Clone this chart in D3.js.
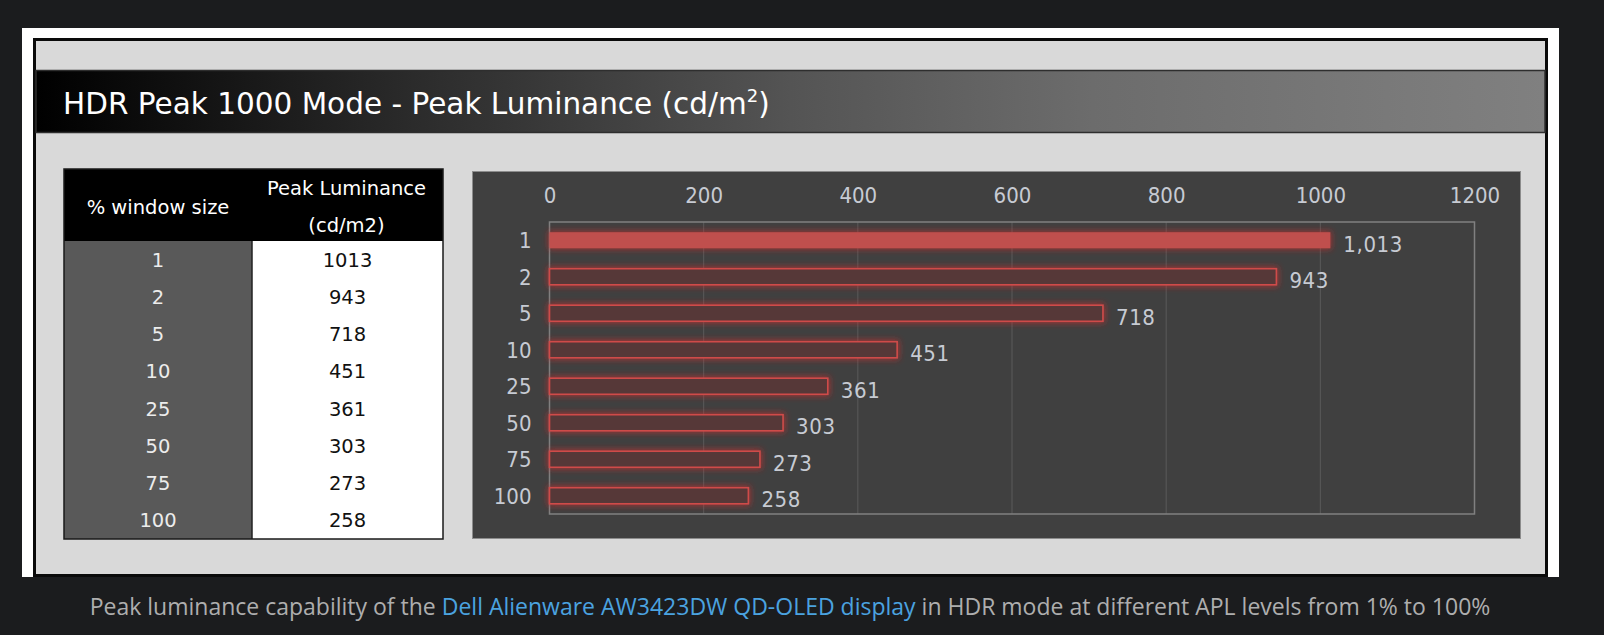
<!DOCTYPE html>
<html>
<head>
<meta charset="utf-8">
<script src="https://cdn.jsdelivr.net/npm/d3@7"></script>
<style>
  html, body { margin: 0; padding: 0; background: #1b1c1e; }
  svg { display: block; }
</style>
</head>
<body>
<svg id="chart" width="1604" height="635"></svg>
<script>
// ---- data ----
const windowSizes = ["1", "2", "5", "10", "25", "50", "75", "100"];
const peakLuminance = [1013, 943, 718, 451, 361, 303, 273, 258];
const xTicks = [0, 200, 400, 600, 800, 1000, 1200];
const titleMain = "HDR Peak 1000 Mode - Peak Luminance (cd/m";
const titleSup = "2";
const tableHeaderLeft = "% window size";
const tableHeaderRight = ["Peak Luminance", "(cd/m2)"];
const captionParts = [
  {text: "Peak luminance capability of the ", link: false},
  {text: "Dell Alienware AW3423DW QD-OLED display", link: true},
  {text: " in HDR mode at different APL levels from 1% to 100%", link: false}
];

const svg = d3.select("#chart");
const defs = svg.append("defs");

// title gradient
const grad = defs.append("linearGradient").attr("id", "titleGrad")
  .attr("x1", "0%").attr("x2", "100%").attr("y1", "0%").attr("y2", "0%");
[[0, "#000000"], [0.25, "#2b2b2b"], [0.5, "#545454"], [0.7, "#6c6c6c"], [1, "#808080"]]
  .forEach(([o, c]) => grad.append("stop").attr("offset", o).attr("stop-color", c));

// glow filter
const glow = defs.append("filter").attr("id", "glow")
  .attr("x", "-10%").attr("y", "-60%").attr("width", "120%").attr("height", "220%");
glow.append("feMorphology").attr("in", "SourceAlpha").attr("operator", "dilate").attr("radius", 1).attr("result", "d");
glow.append("feGaussianBlur").attr("in", "d").attr("stdDeviation", 3).attr("result", "b");
glow.append("feFlood").attr("flood-color", "#d42a2a").attr("flood-opacity", 0.65).attr("result", "f");
glow.append("feComposite").attr("in", "f").attr("in2", "b").attr("operator", "in").attr("result", "g");
const mg = glow.append("feMerge");
mg.append("feMergeNode").attr("in", "g");
mg.append("feMergeNode").attr("in", "SourceGraphic");

// background frame
svg.append("rect").attr("x", 0).attr("y", 0).attr("width", 1604).attr("height", 635).attr("fill", "#1b1c1e");
svg.append("rect").attr("x", 22).attr("y", 28).attr("width", 1537).attr("height", 549).attr("fill", "#ffffff");
svg.append("rect").attr("x", 34.5).attr("y", 39.5).attr("width", 1512).attr("height", 536)
  .attr("fill", "#d9d9d9").attr("stroke", "#0a0a0a").attr("stroke-width", 3);

// title bar
svg.append("rect").attr("x", 36).attr("y", 70.5).attr("width", 1509).attr("height", 62)
  .attr("fill", "url(#titleGrad)").attr("stroke", "#2e2e2e").attr("stroke-width", 1.5);
const title = svg.append("text").attr("x", 63).attr("y", 114)
  .attr("font-family", "'DejaVu Sans', Verdana, sans-serif").attr("font-size", 29.5)
  .attr("fill", "#ffffff");
title.append("tspan").text(titleMain);
title.append("tspan").attr("font-size", 18).attr("dy", -12).text(titleSup);
title.append("tspan").attr("dy", 12).text(")");

// ---- table ----
const tbl = {x0: 64, xm: 252, x1: 443, y0: 169, yh: 241, y1: 539};
const rowH = (tbl.y1 - tbl.yh) / windowSizes.length;
const tg = svg.append("g");
tg.append("rect").attr("x", tbl.x0).attr("y", tbl.y0).attr("width", tbl.x1 - tbl.x0).attr("height", tbl.yh - tbl.y0).attr("fill", "#000");
tg.append("rect").attr("x", tbl.x0).attr("y", tbl.yh).attr("width", tbl.xm - tbl.x0).attr("height", tbl.y1 - tbl.yh).attr("fill", "#595959");
tg.append("rect").attr("x", tbl.xm).attr("y", tbl.yh).attr("width", tbl.x1 - tbl.xm).attr("height", tbl.y1 - tbl.yh).attr("fill", "#ffffff");
tg.append("line").attr("x1", tbl.xm).attr("x2", tbl.xm).attr("y1", tbl.yh).attr("y2", tbl.y1).attr("stroke", "#222").attr("stroke-width", 1.5);
tg.append("rect").attr("x", tbl.x0).attr("y", tbl.y0).attr("width", tbl.x1 - tbl.x0).attr("height", tbl.y1 - tbl.y0)
  .attr("fill", "none").attr("stroke", "#1a1a1a").attr("stroke-width", 1.5);
const tfont = "'DejaVu Sans', Verdana, sans-serif";
tg.append("text").attr("x", (tbl.x0 + tbl.xm) / 2).attr("y", 214).attr("text-anchor", "middle")
  .attr("font-family", tfont).attr("font-size", 19.5).attr("fill", "#fff").text(tableHeaderLeft);
tableHeaderRight.forEach((t, i) => {
  tg.append("text").attr("x", (tbl.xm + tbl.x1) / 2 - 1).attr("y", 195 + i * 37).attr("text-anchor", "middle")
    .attr("font-family", tfont).attr("font-size", 19.5).attr("fill", "#fff").text(t);
});
windowSizes.forEach((w, i) => {
  const cy = tbl.yh + rowH * (i + 0.5);
  tg.append("text").attr("x", (tbl.x0 + tbl.xm) / 2).attr("y", cy + 7).attr("text-anchor", "middle")
    .attr("font-family", tfont).attr("font-size", 19.5).attr("fill", "#ececec").text(w);
  tg.append("text").attr("x", (tbl.xm + tbl.x1) / 2).attr("y", cy + 7).attr("text-anchor", "middle")
    .attr("font-family", tfont).attr("font-size", 19.5).attr("fill", "#111").text(peakLuminance[i]);
});

// ---- chart panel ----
const panel = {x: 472.5, y: 171.5, w: 1048, h: 367};
svg.append("rect").attr("x", panel.x).attr("y", panel.y).attr("width", panel.w).attr("height", panel.h)
  .attr("fill", "#404040").attr("stroke", "#8c8c8c").attr("stroke-width", 1);

const plot = {left: 549.5, right: 1474.5, top: 222, bottom: 514};
const x = d3.scaleLinear().domain([0, 1200]).range([plot.left, plot.right]);
const y = d3.scaleBand().domain(windowSizes).range([plot.top, plot.bottom])
  .paddingInner(0.56).paddingOuter(0.28);

const chartFont = "'Liberation Sans Narrow', 'DejaVu Sans Condensed', Roboto, sans-serif";
const labelColor = "#c7cbd3";

// gridlines
svg.append("g").selectAll("line").data(xTicks.filter(t => t > 0 && t < 1200)).join("line")
  .attr("x1", d => x(d)).attr("x2", d => x(d)).attr("y1", plot.top).attr("y2", plot.bottom)
  .attr("stroke", "#5a5a5a").attr("stroke-width", 1);

// plot border
svg.append("rect").attr("x", plot.left).attr("y", plot.top).attr("width", plot.right - plot.left).attr("height", plot.bottom - plot.top)
  .attr("fill", "none").attr("stroke", "#808080").attr("stroke-width", 1.5);

// x axis (top)
const xAxis = svg.append("g").attr("transform", `translate(0,203)`)
  .call(d3.axisTop(x).tickValues(xTicks).tickSize(0).tickPadding(0).tickFormat(d3.format("d")));
xAxis.select(".domain").remove();
xAxis.selectAll("text").attr("font-family", chartFont).attr("font-size", 22).attr("fill", labelColor);

// y axis
const yAxis = svg.append("g").attr("transform", `translate(${plot.left},0)`)
  .call(d3.axisLeft(y).tickSize(0).tickPadding(18));
yAxis.select(".domain").remove();
yAxis.selectAll("text").attr("font-family", chartFont).attr("font-size", 22).attr("fill", labelColor).attr("dy", "0.36em");

// bars
const data = windowSizes.map((w, i) => ({w, v: peakLuminance[i], i}));
svg.append("g").selectAll("rect").data(data).join("rect")
  .attr("x", x(0))
  .attr("y", d => y(d.w))
  .attr("width", d => x(d.v) - x(0))
  .attr("height", y.bandwidth())
  .attr("fill", d => d.i === 0 ? "#c0504d" : "#573838")
  .attr("stroke", d => d.i === 0 ? "none" : "#cf4c4a")
  .attr("stroke-width", 1.6)
  .attr("filter", "url(#glow)");

// value labels
svg.append("g").selectAll("text").data(data).join("text")
  .attr("x", d => x(d.v) + 13)
  .attr("y", d => y(d.w) + y.bandwidth() / 2 + 11.5)
  .attr("font-family", chartFont).attr("font-size", 22).attr("letter-spacing", 0.6)
  .attr("fill", labelColor)
  .text(d => d3.format(",")(d.v));

// caption
const cap = svg.append("text").attr("x", 790).attr("y", 615).attr("text-anchor", "middle")
  .attr("font-family", "'Open Sans', sans-serif").attr("font-size", 23).attr("fill", "#aeaeae");
captionParts.forEach(p => cap.append("tspan").attr("fill", p.link ? "#4ba3e0" : "#aeaeae").text(p.text));
</script>
</body>
</html>
